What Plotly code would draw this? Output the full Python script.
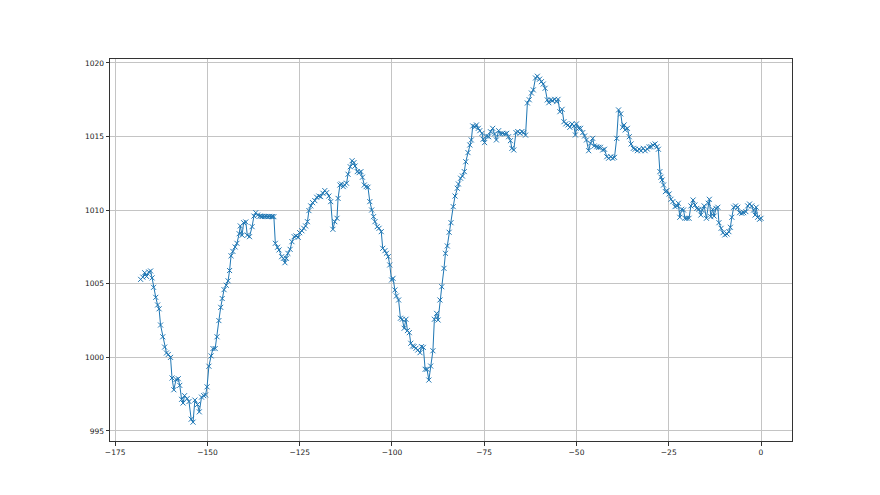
import plotly.graph_objects as go

hours = [
    -168.1, -167.5, -167.0, -166.5, -165.9, -165.4, -165.0, -164.6, -164.0, -163.5,
    -163.1, -162.7, -162.1, -161.6, -161.1, -160.6, -160.0, -159.6, -159.1, -158.5,
    -157.9, -157.5, -157.0, -156.6, -156.2, -155.5, -155.0, -154.4, -153.9, -153.4,
    -152.7, -152.2, -151.6, -151.0, -150.5, -150.1, -149.6, -149.0, -148.5, -147.9,
    -147.4, -146.9, -146.4, -146.0, -145.5, -144.9, -144.4, -144.0, -143.6, -143.1,
    -142.5, -142.0, -141.4, -141.1, -140.6, -140.2, -139.6, -139.2, -138.6, -137.9,
    -137.4, -136.9, -136.4, -135.8, -135.4, -135.0, -134.5, -134.1, -133.6, -133.2,
    -132.7, -132.4, -132.0, -131.6, -131.0, -130.6, -129.9, -129.4, -129.0, -128.6,
    -128.2, -127.6, -127.1, -126.5, -126.0, -125.4, -125.0, -124.4, -123.9, -123.4,
    -122.9, -122.5, -122.0, -121.5, -120.9, -120.4, -119.8, -119.3, -118.7, -118.2,
    -117.7, -117.1, -116.6, -116.0, -115.5, -114.9, -114.6, -114.1, -113.7, -113.2,
    -112.8, -112.3, -111.9, -111.3, -110.8, -110.3, -110.0, -109.4, -108.9, -108.4,
    -108.0, -107.5, -107.0, -106.5, -106.0, -105.5, -105.0, -104.6, -104.0, -103.5,
    -102.9, -102.5, -101.9, -101.5, -101.0, -100.6, -100.1, -99.7, -99.2, -98.8,
    -98.2, -97.7, -97.2, -96.7, -96.2, -95.8, -95.3, -94.9, -94.4, -94.0,
    -93.5, -93.0, -92.4, -92.0, -91.5, -91.0, -90.5, -90.0, -89.5, -88.9,
    -88.5, -87.9, -87.5, -87.0, -86.5, -85.9, -85.5, -85.0, -84.5, -84.0,
    -83.4, -82.9, -82.3, -82.0, -81.4, -80.9, -80.4, -80.0, -79.4, -78.9,
    -78.5, -78.1, -77.5, -77.1, -76.6, -76.2, -75.6, -75.3, -74.9, -74.4,
    -73.8, -73.3, -72.7, -72.2, -71.7, -71.1, -70.6, -70.0, -69.5, -68.9,
    -68.4, -67.9, -67.5, -67.0, -66.4, -65.9, -65.3, -64.8, -64.3, -63.8,
    -63.3, -62.8, -62.2, -61.7, -61.1, -60.6, -60.0, -59.5, -59.0, -58.5,
    -57.9, -57.5, -57.0, -56.5, -55.9, -55.4, -55.0, -54.5, -53.9, -53.4,
    -52.9, -52.3, -51.8, -51.2, -50.7, -50.3, -50.0, -49.4, -48.9, -48.3,
    -47.8, -47.3, -46.7, -46.2, -45.6, -45.2, -44.5, -44.0, -43.5, -42.9,
    -42.4, -41.8, -41.3, -40.7, -40.2, -39.7, -39.1, -38.6, -38.0, -37.5,
    -37.1, -36.8, -36.2, -35.7, -35.2, -34.6, -34.1, -33.5, -33.0, -32.5,
    -31.9, -31.4, -30.8, -30.3, -29.8, -29.3, -28.7, -28.2, -27.8, -27.4,
    -27.1, -26.8, -26.4, -25.9, -25.5, -24.9, -24.4, -23.9, -23.3, -22.8,
    -22.4, -22.0, -21.5, -21.0, -20.6, -20.1, -19.5, -19.0, -18.4, -17.9,
    -17.4, -16.8, -16.3, -15.9, -15.4, -14.8, -14.3, -14.0, -13.6, -13.1,
    -12.7, -12.2, -11.7, -11.4, -10.8, -10.3, -9.8, -9.2, -8.7, -8.3,
    -7.9, -7.4, -6.9, -6.3, -5.8, -5.2, -4.7, -4.1, -3.6, -3.1,
    -2.5, -2.0, -1.6, -1.3, -0.9, -0.4, 0.0,
]

pressure = [
    1005.3, 1005.45, 1005.75, 1005.5, 1005.8, 1005.87, 1005.4, 1004.76, 1004.08, 1003.56,
    1003.3, 1002.2, 1001.4, 1000.7, 1000.3, 1000.2, 1000.0, 998.6, 997.8, 998.5,
    998.55, 998.1, 997.15, 996.9, 997.4, 997.2, 997.0, 995.8, 995.6, 997.1,
    996.8, 996.3, 997.3, 997.4, 997.45, 998.0, 999.4, 1000.1, 1000.6, 1000.6,
    1001.4, 1002.5, 1003.4, 1004.0, 1004.6, 1004.9, 1005.2, 1005.9, 1006.9, 1007.2,
    1007.5, 1007.75, 1008.4, 1008.93, 1008.3, 1009.15, 1009.2, 1008.3, 1008.2, 1008.88,
    1009.6, 1009.83, 1009.67, 1009.6, 1009.58, 1009.58, 1009.57, 1009.58, 1009.56, 1009.58,
    1009.57, 1009.56, 1009.56, 1007.75, 1007.48, 1007.3, 1006.84, 1006.73, 1006.43, 1006.73,
    1007.07, 1007.34, 1007.86, 1008.2, 1008.25, 1008.16, 1008.47, 1008.6, 1008.77, 1008.93,
    1009.22, 1009.97, 1010.29, 1010.51, 1010.65, 1010.88, 1010.96, 1010.92, 1011.15, 1011.33,
    1011.19, 1010.96, 1010.58, 1008.7, 1009.22, 1009.45, 1010.8, 1011.71, 1011.78, 1011.6,
    1011.71, 1011.83, 1012.44, 1012.95, 1013.36, 1013.23, 1013.0, 1012.62, 1012.55, 1012.62,
    1012.24, 1011.71, 1011.6, 1011.56, 1010.58, 1010.01, 1009.56, 1009.22, 1008.88, 1008.77,
    1008.54, 1007.41, 1007.25, 1007.07, 1006.84, 1006.28, 1005.26, 1005.37, 1004.58, 1004.17,
    1003.9, 1002.66, 1002.59, 1001.98, 1002.59, 1001.82, 1001.68, 1000.96, 1000.77, 1000.73,
    1000.62, 1000.5, 1000.32, 1000.73, 1000.68, 999.19, 999.19, 998.46, 999.41, 1000.45,
    1002.59, 1002.99, 1002.54, 1003.9, 1004.8, 1006.05, 1007.07, 1007.57, 1008.5, 1009.15,
    1010.24, 1010.96, 1011.49, 1011.78, 1012.17, 1012.32, 1012.62, 1013.29, 1013.91, 1014.43,
    1014.77, 1015.72, 1015.67, 1015.79, 1015.56, 1015.4, 1015.22, 1014.82, 1014.59, 1015.04,
    1014.99, 1015.33, 1015.56, 1015.18, 1014.77, 1015.4, 1015.18, 1015.22, 1015.18, 1015.22,
    1014.99, 1014.72, 1014.2, 1014.09, 1015.27, 1015.34, 1015.22, 1015.34, 1015.27, 1015.1,
    1017.28, 1017.5, 1017.96, 1018.17, 1018.98, 1019.1, 1018.9, 1018.73, 1018.57, 1018.28,
    1017.49, 1017.3, 1017.49, 1017.44, 1017.53, 1017.37, 1017.53, 1016.69, 1016.85, 1016.01,
    1015.86, 1015.79, 1015.63, 1015.86, 1015.72, 1015.11, 1015.86, 1015.56, 1015.56, 1015.27,
    1015.04, 1014.77, 1014.04, 1014.55, 1014.88, 1014.36, 1014.31, 1014.27, 1014.27, 1014.09,
    1014.14, 1013.63, 1013.53, 1013.63, 1013.53, 1013.59, 1014.88, 1016.81, 1016.54, 1015.63,
    1015.79, 1015.45, 1015.56, 1014.99, 1014.5, 1014.2, 1014.14, 1014.04, 1014.14, 1014.04,
    1014.2, 1014.04, 1014.15, 1014.3, 1014.31, 1014.43, 1014.5, 1014.31, 1014.14, 1012.62,
    1012.24, 1012.05, 1011.71, 1011.26, 1011.33, 1011.1, 1010.74, 1010.58, 1010.24, 1010.29,
    1010.47, 1009.52, 1010.06, 1010.01, 1009.45, 1009.45, 1009.45, 1010.29, 1010.69, 1010.35,
    1010.12, 1010.06, 1009.67, 1010.01, 1010.29, 1009.45, 1010.47, 1010.74, 1009.56, 1010.06,
    1009.6, 1010.12, 1010.2, 1009.15, 1008.77, 1008.47, 1008.32, 1008.38, 1008.54, 1008.84,
    1009.52, 1010.2, 1010.29, 1010.2, 1009.83, 1009.79, 1009.83, 1009.9, 1010.29, 1010.42,
    1010.29, 1010.01, 1009.67, 1010.2, 1009.52, 1009.38, 1009.45,
]

x_ticks = [-175, -150, -125, -100, -75, -50, -25, 0]
y_ticks = [995, 1000, 1005, 1010, 1015, 1020]

fig = go.Figure(
    go.Scatter(
        x=hours,
        y=pressure,
        mode="lines+markers",
        line=dict(color="#1f77b4", width=1),
        marker=dict(symbol="x-thin", size=5, line=dict(color="#1f77b4", width=1), color="#1f77b4"),
        showlegend=False,
    )
)

axis_common = dict(
    showline=True,
    mirror=True,
    linecolor="#333333",
    linewidth=1,
    ticks="outside",
    ticklen=3.5,
    tickwidth=0.8,
    tickcolor="#333333",
    showgrid=True,
    gridcolor="#c4c4c4",
    gridwidth=1,
    zeroline=False,
    tickfont=dict(family="DejaVu Sans", size=7.5, color="#222222"),
)

fig.update_xaxes(range=[-176.4, 8.4], tickvals=x_ticks, **axis_common)
fig.update_yaxes(range=[994.32, 1020.27], tickvals=y_ticks, **axis_common)

fig.update_layout(
    width=880,
    height=495,
    margin=dict(l=102, r=96, t=51, b=62),
    paper_bgcolor="white",
    plot_bgcolor="white",
)

fig.write_html("out.html")
